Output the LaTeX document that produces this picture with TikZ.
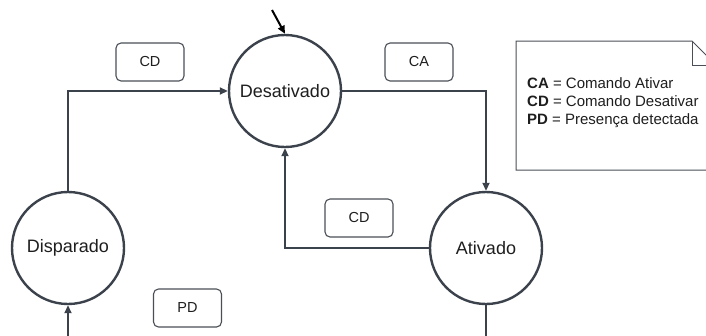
\documentclass[tikz,border=0pt]{standalone}
\usepackage{fontspec}
\setmainfont{Liberation Sans}
\usetikzlibrary{arrows.meta}
\definecolor{ln}{HTML}{3B424C}
\definecolor{bx}{HTML}{4A4F57}
\definecolor{tx}{HTML}{1E1E1E}
\begin{document}
\begin{tikzpicture}[x=1pt,y=-1pt,
 state/.style={circle,draw=ln,line width=2.4pt,minimum size=112pt,inner sep=0pt,text=tx,font=\fontsize{18}{20}\selectfont},
 lbl/.style={draw=bx,rounded corners=5pt,line width=1.1pt,minimum width=68pt,minimum height=38pt,inner sep=0pt,text=tx,font=\fontsize{14.5}{16}\selectfont},
 conn/.style={draw=ln,line width=1.8pt,-{Triangle[length=8pt,width=7pt]}},
 plainconn/.style={draw=ln,line width=1.8pt}]
\useasboundingbox (0,0) rectangle (706,335);
\fill[white] (0,0) rectangle (706,335);
\clip (0,0) rectangle (706,335);
\node[state] (des) at (285,91) {Desativado};
\node[state] (dis) at (68,248) {Disparado};
\node[state] (ati) at (486,248) {Ativado};
\node[lbl] (l1) at (150,62) {CD};
\node[lbl] (l2) at (419,62) {CA};
\node[lbl] (l3) at (359,218) {CD};
\node[lbl] (l4) at (187.5,308) {PD};
\coordinate (init) at (272,10);
\coordinate (atiend) at (486,345);
\coordinate (disstart) at (68,345);
\draw[conn] (dis.north) |- (des.west);
\draw[conn] (des.east) -| (ati.north);
\draw[conn] (ati.west) -| (des.south);
\draw[plainconn] (ati.south) -- (atiend);
\draw[conn] (disstart) -- (dis.south);
\draw[draw=black,line width=2pt,-{Triangle[length=8pt,width=7pt]}] (init) -- (des.north);
% note
\draw[bx,line width=1pt] (516,41) -- (692,41) -- (716,65) -- (716,170) -- (516,170) -- cycle;
\draw[bx,line width=1pt] (692,41) -- (692,65) -- (716,65);
\node[anchor=west,align=left,inner sep=0pt,text=tx,font=\fontsize{15}{18}\selectfont] (legend) at (527,103) {\textbf{CA} = Comando Ativar\\\textbf{CD} = Comando Desativar\\\textbf{PD} = Presença detectada};
\end{tikzpicture}
\end{document}
